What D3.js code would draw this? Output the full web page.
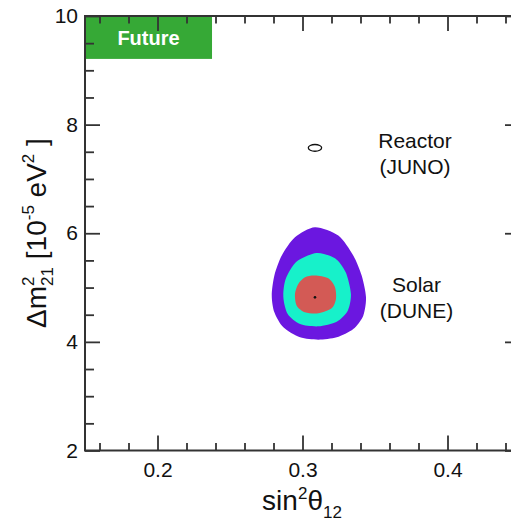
<!DOCTYPE html>
<meta charset="utf-8">
<style>
body { margin: 0; background: #fff; }
svg { display: block; }
svg text { font-family: "Liberation Sans", Arial, Helvetica, sans-serif; fill: #111; }
.axis path { display: none; }
.axis line { stroke: #333; stroke-width: 1.8; }
.axis text { font-size: 21px; }
</style>
<svg id="chart"></svg>
<script src="https://cdn.jsdelivr.net/npm/d3@7"></script>
<script>

// axis ticks
var xMajor = [0.2, 0.3, 0.4];
var xMinor = [0.16, 0.18, 0.22, 0.24, 0.26, 0.28, 0.32, 0.34, 0.36, 0.38, 0.42, 0.44];
var yMajor = [2, 4, 6, 8, 10];
var yMinor = [2.5, 3, 3.5, 4.5, 5, 5.5, 6.5, 7, 7.5, 8.5, 9, 9.5];

// contour outlines, [sin2theta12, dm2_21]
var solar3sigma = [[0.3086, 6.111], [0.3247, 5.957], [0.3350, 5.589], [0.3408, 5.220], [0.3438, 4.820],
  [0.3419, 4.483], [0.3350, 4.237], [0.3236, 4.083], [0.3109, 4.040], [0.2983, 4.083], [0.2868, 4.267],
  [0.2806, 4.544], [0.2788, 4.851], [0.2806, 5.220], [0.2857, 5.589], [0.2948, 5.926]];
var solar2sigma = [[0.3098, 5.637], [0.3224, 5.539], [0.3298, 5.281], [0.3334, 4.882], [0.3312, 4.575],
  [0.3236, 4.372], [0.3109, 4.286], [0.2983, 4.329], [0.2898, 4.513], [0.2868, 4.820], [0.2884, 5.158],
  [0.2960, 5.478]];
var solar1sigma = [[0.3086, 5.220], [0.3178, 5.170], [0.3224, 5.005], [0.3231, 4.789], [0.3201, 4.618],
  [0.3109, 4.525], [0.3017, 4.544], [0.2960, 4.667], [0.2948, 4.882], [0.2971, 5.066], [0.3017, 5.189]];
// reactor contour: centre and half-widths
var reactorCentre = [0.3086, 7.572];
var reactorHalf = [0.0046, 0.062];
var bestFit = [0.3086, 4.82];

// label box and annotations
var futureBox = [0.15, 0.2376, 10, 9.21];
var notes = [
  {x: 0.3776, y: 7.57, lines: ["Reactor", "(JUNO)"]},
  {x: 0.3786, y: 4.918, lines: ["Solar", "(DUNE)"]}
];

var width = 511, height = 524;
var svg = d3.select("#chart").attr("width", width).attr("height", height);

var x = d3.scaleLinear().domain([0.15, 0.45]).range([85, 520]);
var y = d3.scaleLinear().domain([2, 10]).range([450.5, 16]);

var line = d3.line()
  .x(function(d) { return x(d[0]); })
  .y(function(d) { return y(d[1]); })
  .curve(d3.curveCardinalClosed.tension(0.2));

// green label box, under the ticks
svg.append("rect")
  .attr("x", x(futureBox[0]))
  .attr("y", y(futureBox[2]))
  .attr("width", x(futureBox[1]) - x(futureBox[0]))
  .attr("height", y(futureBox[3]) - y(futureBox[2]))
  .attr("fill", "#36a936");

svg.append("text")
  .attr("x", (x(futureBox[0]) + x(futureBox[1])) / 2)
  .attr("y", 45)
  .attr("text-anchor", "middle")
  .style("font-size", "20px")
  .style("font-weight", "bold")
  .style("fill", "#fff")
  .text("Future");

// contours
svg.append("path").datum(solar3sigma).attr("d", line).attr("fill", "#6b17e0");
svg.append("path").datum(solar2sigma).attr("d", line).attr("fill", "#17f1ca");
svg.append("path").datum(solar1sigma).attr("d", line).attr("fill", "#d35a55");
svg.append("ellipse")
  .attr("cx", x(reactorCentre[0])).attr("cy", y(reactorCentre[1]))
  .attr("rx", x(reactorCentre[0] + reactorHalf[0]) - x(reactorCentre[0]))
  .attr("ry", y(reactorCentre[1]) - y(reactorCentre[1] + reactorHalf[1]))
  .attr("fill", "none").attr("stroke", "#111").attr("stroke-width", 1.3);
svg.append("circle")
  .attr("cx", x(bestFit[0])).attr("cy", y(bestFit[1]))
  .attr("r", 1.3).attr("fill", "#111");

// axes: major ticks 15px, minor ticks shorter, all pointing inward
function addAxis(gen, tx, ty, vals, size, fmt, pad) {
  var a = gen.tickValues(vals).tickSize(-size).tickSizeOuter(0).tickPadding(pad || 0)
    .tickFormat(fmt || "");
  return svg.append("g").attr("class", "axis")
    .attr("transform", "translate(" + tx + "," + ty + ")")
    .call(a);
}

addAxis(d3.axisBottom(x), 0, y(2), xMajor, 15, d3.format(".1f"), 12);
addAxis(d3.axisBottom(x), 0, y(2), xMinor, 7.5);
addAxis(d3.axisTop(x), 0, y(10), xMajor, 15);
addAxis(d3.axisTop(x), 0, y(10), xMinor, 7.5);
addAxis(d3.axisLeft(y), x(0.15), 0, yMajor, 15, d3.format("d"), 7);
addAxis(d3.axisLeft(y), x(0.15), 0, yMinor, 9);
addAxis(d3.axisRight(y), x(0.45), 0, yMajor, 15);
addAxis(d3.axisRight(y), x(0.45), 0, yMinor, 9);

// frame
svg.append("rect")
  .attr("x", x(0.15)).attr("y", y(10))
  .attr("width", x(0.45) - x(0.15)).attr("height", y(2) - y(10))
  .attr("fill", "none").attr("stroke", "#333").attr("stroke-width", 2);

// annotations
notes.forEach(function(n) {
  var t = svg.append("text")
    .attr("text-anchor", "middle")
    .style("font-size", "21px");
  n.lines.forEach(function(s, i) {
    t.append("tspan")
      .attr("x", x(n.x))
      .attr("y", y(n.y) + i * 26)
      .text(s);
  });
});

// x title: sin^2 theta_12
var xt = svg.append("text")
  .attr("x", 302).attr("y", 510)
  .attr("text-anchor", "middle")
  .style("font-size", "28px");
xt.append("tspan").text("sin");
xt.append("tspan").attr("dy", -11).style("font-size", "17px").text("2");
xt.append("tspan").attr("dy", 11).text("θ");
xt.append("tspan").attr("dy", 8).style("font-size", "17px").text("12");

// y title: dm^2_21 [10^-5 eV^2]
var yt = svg.append("text")
  .attr("transform", "translate(46,233) rotate(-90)")
  .attr("text-anchor", "middle")
  .style("font-size", "28px");
yt.append("tspan").text("Δm");
yt.append("tspan").attr("dy", -12).style("font-size", "17px").text("2");
yt.append("tspan").attr("dx", -9.5).attr("dy", 19).style("font-size", "17px").text("21");
yt.append("tspan").attr("dy", -7).text(" [10");
yt.append("tspan").attr("dy", -12).style("font-size", "17px").text("-5");
yt.append("tspan").attr("dy", 12).text(" eV");
yt.append("tspan").attr("dy", -12).style("font-size", "17px").text("2");
yt.append("tspan").attr("dy", 12).text(" ]");

</script>
